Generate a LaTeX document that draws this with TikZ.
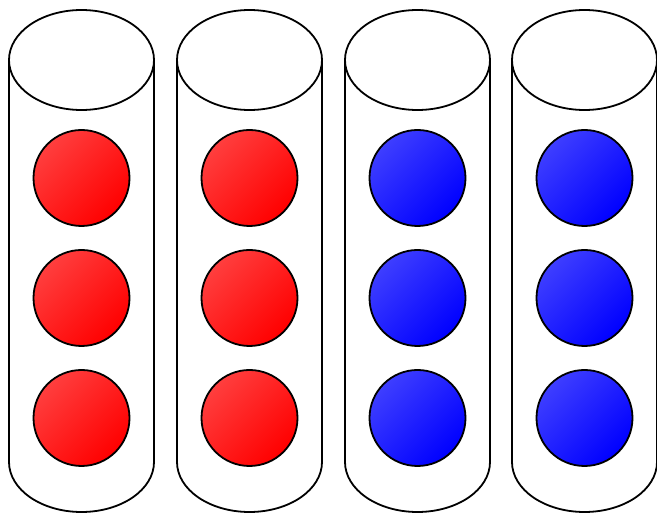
\documentclass[tikz,border=0pt]{standalone}
\begin{document}
\begin{tikzpicture}[x=1pt,y=1pt,
  tube/.style={draw=black,line width=1.8pt,fill=white},
  ballbase/.style={circle,draw=black,line width=1.8pt,minimum size=96pt,inner sep=0pt},
  redball/.style={ballbase,top color={rgb,255:red,255;green,62;blue,62},bottom color={rgb,255:red,255;green,0;blue,0},shading angle=45},
  blueball/.style={ballbase,top color={rgb,255:red,62;green,62;blue,255},bottom color={rgb,255:red,0;green,0;blue,255},shading angle=45}]
\useasboundingbox (0,0) rectangle (657,514);
\foreach \cx in {81.5,249.5,417.5,584.5}{
  \draw[tube] (\cx-72.5,454) -- (\cx-72.5,52) arc[start angle=180,end angle=360,x radius=72.5,y radius=50] -- (\cx+72.5,454);
  \draw[tube] (\cx,454) ellipse[x radius=72.5,y radius=50];
}
\node[redball] (r1a) at (81.5,336) {};
\node[redball] (r1b) at (81.5,216) {};
\node[redball] (r1c) at (81.5,96) {};
\node[redball] (r2a) at (249.5,336) {};
\node[redball] (r2b) at (249.5,216) {};
\node[redball] (r2c) at (249.5,96) {};
\node[blueball] (b3a) at (417.5,336) {};
\node[blueball] (b3b) at (417.5,216) {};
\node[blueball] (b3c) at (417.5,96) {};
\node[blueball] (b4a) at (584.5,336) {};
\node[blueball] (b4b) at (584.5,216) {};
\node[blueball] (b4c) at (584.5,96) {};
\end{tikzpicture}
\end{document}
